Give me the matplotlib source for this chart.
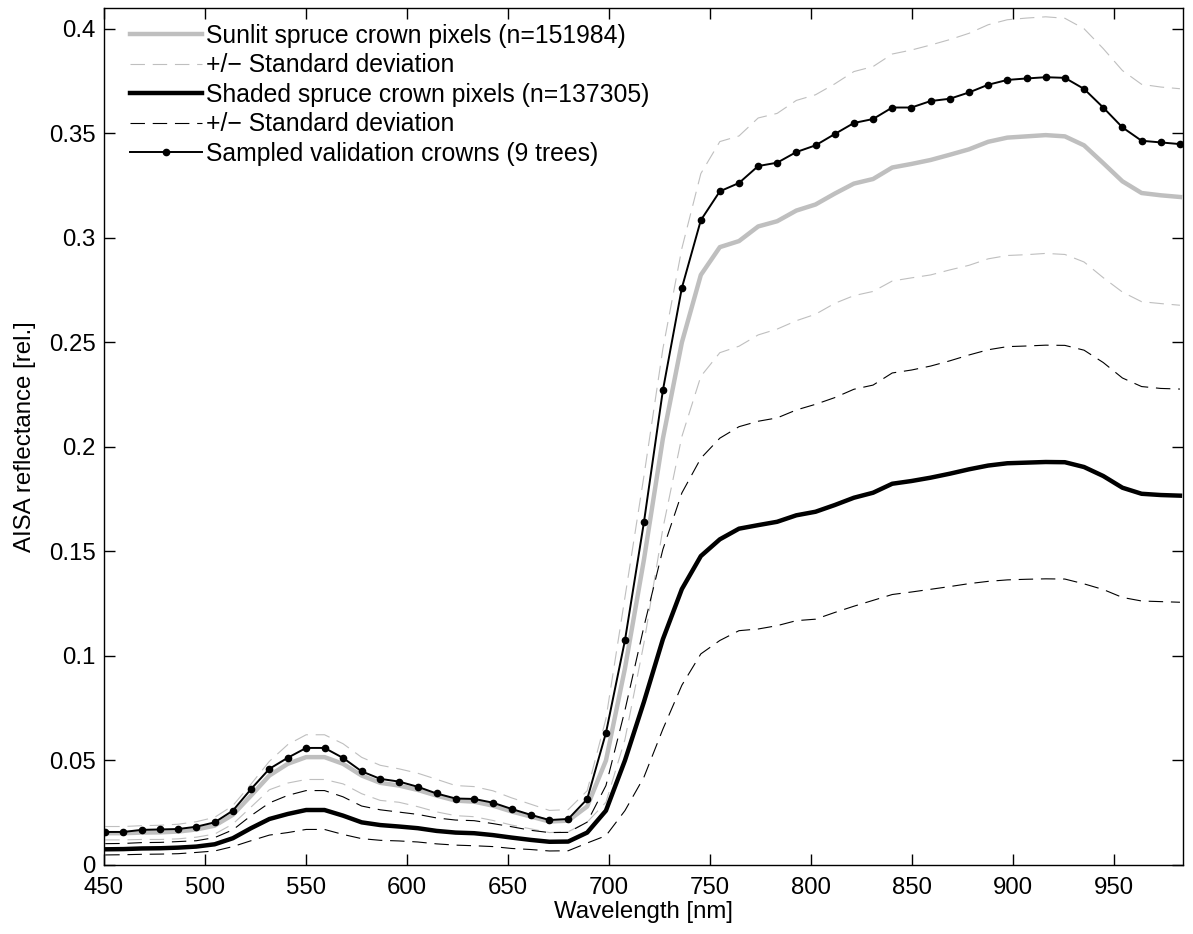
import numpy as np
import matplotlib
matplotlib.use("Agg")
import matplotlib.pyplot as plt
from matplotlib.ticker import FuncFormatter

plt.rcParams['font.family'] = ['Liberation Sans', 'DejaVu Sans']

# band centres [nm]
wavelength = [450.6, 459.6, 468.6, 477.7, 486.7, 495.7, 504.8, 513.8, 522.8, 531.9,
              541.0, 550.1, 559.2, 568.4, 577.6, 586.8, 596.1, 605.4, 614.7, 624.1,
              633.3, 642.6, 651.9, 661.3, 670.6, 679.9, 689.3, 698.6, 708.0, 717.4,
              726.8, 736.2, 745.6, 755.0, 764.5, 774.0, 783.4, 792.9, 802.4, 811.9,
              821.4, 830.9, 840.4, 849.9, 859.4, 868.9, 878.4, 887.9, 897.4, 906.9,
              916.4, 925.9, 935.4, 944.9, 954.4, 963.9, 973.4, 982.9]

sunlit_mean = [0.0152, 0.0152, 0.0155, 0.0156, 0.0160, 0.0170, 0.0188, 0.0240, 0.0332, 0.0428,
               0.0484, 0.0516, 0.0516, 0.0484, 0.0428, 0.0393, 0.0380, 0.0359, 0.0332, 0.0308,
               0.0303, 0.0284, 0.0256, 0.0232, 0.0208, 0.0212, 0.0280, 0.0500, 0.0940, 0.1460,
               0.2040, 0.2500, 0.2823, 0.2956, 0.2985, 0.3055, 0.3080, 0.3131, 0.3160, 0.3212,
               0.3260, 0.3282, 0.3337, 0.3354, 0.3373, 0.3398, 0.3424, 0.3460, 0.3480, 0.3486,
               0.3492, 0.3486, 0.3443, 0.3358, 0.3271, 0.3215, 0.3204, 0.3196]
sunlit_std = [0.0032, 0.0032, 0.0033, 0.0034, 0.0035, 0.0037, 0.0040, 0.0044, 0.0055, 0.0068,
              0.0092, 0.0107, 0.0107, 0.0096, 0.0087, 0.0084, 0.0080, 0.0080, 0.0078, 0.0072,
              0.0072, 0.0071, 0.0065, 0.0059, 0.0053, 0.0053, 0.0075, 0.0200, 0.0340, 0.0400,
              0.0430, 0.0450, 0.0485, 0.0505, 0.0503, 0.0519, 0.0516, 0.0527, 0.0525, 0.0525,
              0.0536, 0.0538, 0.0543, 0.0545, 0.0550, 0.0551, 0.0555, 0.0560, 0.0564, 0.0566,
              0.0566, 0.0565, 0.0558, 0.0548, 0.0530, 0.0520, 0.0518, 0.0518]

shaded_mean = [0.0075, 0.0076, 0.0079, 0.0080, 0.0083, 0.0088, 0.0099, 0.0128, 0.0176, 0.0220,
               0.0244, 0.0263, 0.0263, 0.0236, 0.0204, 0.0191, 0.0184, 0.0176, 0.0163, 0.0155,
               0.0152, 0.0143, 0.0131, 0.0120, 0.0111, 0.0112, 0.0155, 0.0260, 0.0500, 0.0780,
               0.1080, 0.1320, 0.1478, 0.1558, 0.1609, 0.1626, 0.1642, 0.1673, 0.1690, 0.1722,
               0.1757, 0.1781, 0.1824, 0.1837, 0.1853, 0.1872, 0.1893, 0.1911, 0.1922, 0.1925,
               0.1928, 0.1927, 0.1904, 0.1861, 0.1805, 0.1776, 0.1770, 0.1767]
shaded_std = [0.0027, 0.0027, 0.0028, 0.0028, 0.0029, 0.0028, 0.0032, 0.0040, 0.0060, 0.0077,
              0.0089, 0.0093, 0.0093, 0.0090, 0.0078, 0.0073, 0.0069, 0.0066, 0.0062, 0.0060,
              0.0060, 0.0055, 0.0052, 0.0046, 0.0044, 0.0044, 0.0050, 0.0120, 0.0240, 0.0360,
              0.0430, 0.0460, 0.0468, 0.0484, 0.0488, 0.0497, 0.0497, 0.0504, 0.0514, 0.0514,
              0.0519, 0.0515, 0.0530, 0.0531, 0.0534, 0.0540, 0.0547, 0.0554, 0.0558, 0.0558,
              0.0559, 0.0559, 0.0559, 0.0543, 0.0525, 0.0513, 0.0510, 0.0510]

validation = [0.0158, 0.0158, 0.0168, 0.0170, 0.0172, 0.0183, 0.0204, 0.0260, 0.0363, 0.0460,
              0.0513, 0.0560, 0.0560, 0.0512, 0.0448, 0.0412, 0.0399, 0.0374, 0.0342, 0.0318,
              0.0316, 0.0298, 0.0268, 0.0240, 0.0215, 0.0220, 0.0315, 0.0632, 0.1074, 0.1639,
              0.2271, 0.2761, 0.3085, 0.3223, 0.3263, 0.3344, 0.3360, 0.3411, 0.3443, 0.3497,
              0.3550, 0.3569, 0.3624, 0.3624, 0.3655, 0.3666, 0.3696, 0.3733, 0.3756, 0.3763,
              0.3769, 0.3766, 0.3713, 0.3624, 0.3529, 0.3465, 0.3457, 0.3449]

labels = ["Sunlit spruce crown pixels (n=151984)",
          "+/\u2212 Standard deviation",
          "Shaded spruce crown pixels (n=137305)",
          "+/\u2212 Standard deviation",
          "Sampled validation crowns (9 trees)"]

wl = np.array(wavelength)
sm, ss = np.array(sunlit_mean), np.array(sunlit_std)
hm, hs = np.array(shaded_mean), np.array(shaded_std)

grey = "#bfbfbf"
dash = (13, 7)
fs = 17.3

fig = plt.figure(figsize=(11.93, 9.34), dpi=100)
ax = fig.add_axes([0.0872, 0.0739, 0.9044, 0.9175])

l1, = ax.plot(wl, sm, color=grey, lw=3.2, label=labels[0])
l2, = ax.plot(wl, sm + ss, color=grey, lw=0.8, dashes=dash, label=labels[1])
ax.plot(wl, sm - ss, color=grey, lw=0.8, dashes=dash)
l3, = ax.plot(wl, hm, color="black", lw=3.2, label=labels[2])
l4, = ax.plot(wl, hm + hs, color="black", lw=0.8, dashes=dash, label=labels[3])
ax.plot(wl, hm - hs, color="black", lw=0.8, dashes=dash)
l5, = ax.plot(wl, validation, color="black", lw=1.4, marker="o", ms=4.5,
              mfc="black", mec="black", label=labels[4])

ax.set_xlim(450, wl[-1] + 1.5)
ax.set_ylim(0, 0.41)
ax.set_xticks(np.arange(450, 951, 50))
ax.set_yticks(np.arange(0, 0.401, 0.05))
ax.yaxis.set_major_formatter(FuncFormatter(lambda v, p: "%g" % round(v, 3)))
ax.tick_params(direction="in", length=8, width=1.0, top=True, right=True,
               labelsize=fs)
ax.tick_params(axis="x", pad=9)
ax.tick_params(axis="y", pad=6)
for s in ax.spines.values():
    s.set_linewidth(1.0)

ax.set_xlabel("Wavelength [nm]", fontsize=fs, labelpad=1)
ax.set_ylabel("AISA reflectance [rel.]", fontsize=fs, labelpad=9)

ax.legend(handles=[l1, l2, l3, l4, l5], loc="upper left", frameon=False,
          fontsize=17.8, handlelength=2.9, handletextpad=0.18, labelspacing=0.22,
          borderaxespad=0, borderpad=0.4, bbox_to_anchor=(0.0148, 0.993))

fig.savefig("out.png", dpi=100)
